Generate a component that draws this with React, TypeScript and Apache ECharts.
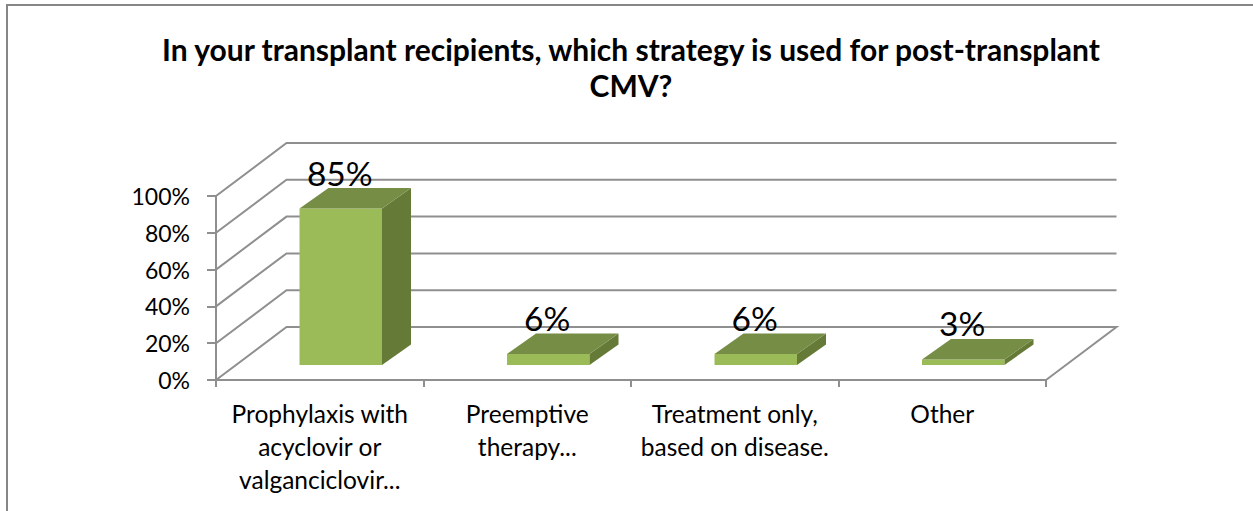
import React, { useEffect, useRef } from "react";
import * as echarts from "echarts";

const titleText = "In your transplant recipients, which strategy is used for post-transplant\nCMV?";
const categories = [
  "Prophylaxis with\nacyclovir or\nvalganciclovir...",
  "Preemptive\ntherapy...",
  "Treatment only,\nbased on disease.",
  "Other",
];
const values = [85, 6, 6, 3];
const labels = ["85%", "6%", "6%", "3%"];
const gridTicks = [0, 20, 40, 60, 80, 100];

const FONT = "Lato, Carlito, 'Open Sans', sans-serif";
const GRID_COLOR = "#8f8f8f";
const WALL_DX = 70.5;
const WALL_DY = -53;
const BAR_W = 82.5;
const BAR_SHIFT_X = 21;
const BAR_SHIFT_Y = -15;
const BAR_DX = 29;
const BAR_DY = -20.5;

export default function App() {
  const ref = useRef<HTMLDivElement>(null);
  useEffect(() => {
    const chart = echarts.init(ref.current!, null, { renderer: "svg" });
    chart.setOption({
      animation: false,
      backgroundColor: "#ffffff",
      title: {
        text: titleText,
        left: 626,
        top: 26,
        textAlign: "center",
        textStyle: {
          fontFamily: FONT,
          fontWeight: "bold",
          fontSize: 30,
          lineHeight: 36,
          color: "#000000",
        },
      },
      graphic: [
        {
          type: "polyline",
          silent: true,
          z: 0,
          shape: { points: [[7, 520], [7, 5], [1253, 5]] },
          style: { stroke: "#868686", lineWidth: 2, fill: "none" },
        },
      ],
      grid: { left: 216, top: 196, width: 830, height: 184 },
      xAxis: {
        type: "category",
        data: categories,
        boundaryGap: true,
        axisLine: { show: true, lineStyle: { color: GRID_COLOR, width: 2 } },
        axisTick: { show: true, length: 7, inside: false, lineStyle: { color: GRID_COLOR, width: 2 } },
        axisLabel: {
          interval: 0,
          margin: 17,
          fontFamily: FONT,
          fontSize: 24.5,
          lineHeight: 33,
          color: "#000000",
        },
      },
      yAxis: {
        type: "value",
        min: 0,
        max: 100,
        interval: 20,
        splitLine: { show: false },
        axisLine: { show: true, lineStyle: { color: GRID_COLOR, width: 2 } },
        axisTick: { show: true, length: 9, lineStyle: { color: GRID_COLOR, width: 2 } },
        axisLabel: {
          margin: 26,
          formatter: "{value}%",
          fontFamily: FONT,
          fontSize: 23,
          color: "#000000",
        },
      },
      series: [
        {
          type: "custom",
          name: "walls",
          coordinateSystem: "cartesian2d",
          silent: true,
          z: 1,
          encode: { x: 0, y: 1 },
          data: gridTicks.map((t) => [0, t]),
          renderItem: (params: any, api: any) => {
            const v = api.value(1);
            const y = api.coord([0, v])[1];
            const x0 = params.coordSys.x;
            const x1 = x0 + params.coordSys.width;
            const pts =
              v === 0
                ? [[x0, y], [x0 + WALL_DX, y + WALL_DY], [x1 + WALL_DX, y + WALL_DY], [x1, y]]
                : [[x0, y], [x0 + WALL_DX, y + WALL_DY], [x1 + WALL_DX, y + WALL_DY]];
            return {
              type: "polyline",
              shape: { points: pts },
              style: { stroke: GRID_COLOR, lineWidth: 2, fill: "none" },
            };
          },
        },
        {
          type: "custom",
          name: "bars",
          coordinateSystem: "cartesian2d",
          silent: true,
          z: 2,
          encode: { x: 0, y: 1 },
          data: values.map((v, i) => [i, v]),
          renderItem: (params: any, api: any) => {
            const i = api.value(0);
            const v = api.value(1);
            const top = api.coord([i, v]);
            const base = api.coord([i, 0]);
            const xl = top[0] - BAR_W / 2 + BAR_SHIFT_X;
            const xr = xl + BAR_W;
            const yt = top[1] + BAR_SHIFT_Y;
            const yb = base[1] + BAR_SHIFT_Y;
            return {
              type: "group",
              children: [
                {
                  type: "polygon",
                  shape: { points: [[xl, yb], [xr, yb], [xr, yt], [xl, yt]] },
                  style: { fill: "#9bbb59" },
                },
                {
                  type: "polygon",
                  shape: { points: [[xr, yb], [xr + BAR_DX, yb + BAR_DY], [xr + BAR_DX, yt + BAR_DY], [xr, yt]] },
                  style: { fill: "#667a38" },
                },
                {
                  type: "polygon",
                  shape: { points: [[xl, yt], [xr, yt], [xr + BAR_DX, yt + BAR_DY], [xl + BAR_DX, yt + BAR_DY]] },
                  style: { fill: "#768d45" },
                },
                {
                  type: "text",
                  style: {
                    x: (xl + xr) / 2 - 1,
                    y: yt - 36,
                    text: labels[params.dataIndex],
                    fill: "#000000",
                    font: `33.5px ${FONT}`,
                    align: "center",
                    verticalAlign: "middle",
                  },
                },
              ],
            };
          },
        },
      ],
    });
    return () => chart.dispose();
  }, []);
  return (
    <div
      ref={ref}
      style={{ position: "absolute", left: 0, top: 0, width: 1253, height: 511 }}
    />
  );
}
